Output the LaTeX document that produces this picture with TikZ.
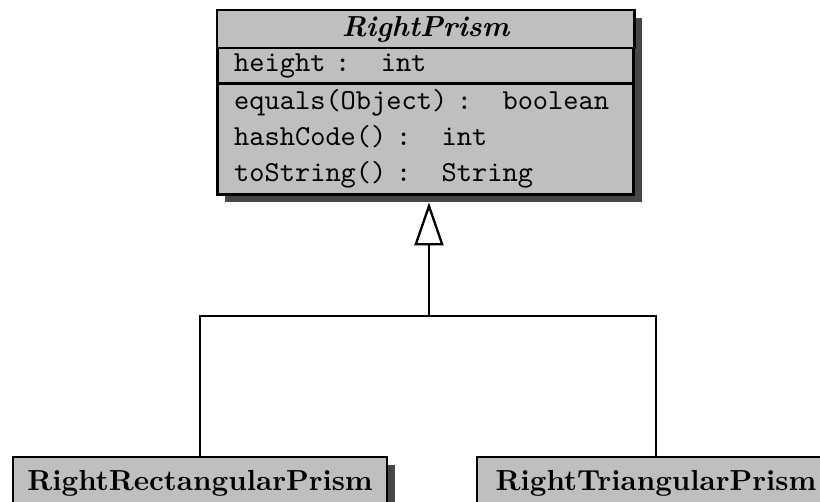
\documentclass[tikz,border=0pt]{standalone}
\usetikzlibrary{arrows.meta,shadows}

% gap of two monospace cells after a colon
\newcommand\ttgap{\phantom{xx}}

\tikzset{
  umlpart/.style={draw, line width=1pt, fill=black!25, inner sep=0pt, outer sep=0pt,
    drop shadow={shadow xshift=2.7pt, shadow yshift=-2.7pt, fill=black!72, opacity=1}},
  umlrows/.style={umlpart, align=left, text width=132pt, inner xsep=5.9pt},
  umlleaf/.style={umlpart, anchor=north, inner xsep=0pt, inner ysep=0pt,
    text height=11.4pt, text depth=20pt, font=\bfseries},
  umlline/.style={line width=0.8pt},
  inherits/.style={umlline, -{Triangle[open, length=14.8pt, width=10pt, line width=0.8pt]}}
}

\begin{document}
\begin{tikzpicture}[x=0.345pt, y=-0.345pt]
  \useasboundingbox (0,0) rectangle (820,501);
  \fill[white] (0,0) rectangle (820,501);
  \clip (0,0) rectangle (820,501);

  % abstract parent class: name, attribute and operation compartments
  \node[umlpart, minimum width=143.9pt, minimum height=13.1pt, anchor=north,
        font=\bfseries\itshape] (rp) at (425.5,10) {RightPrism};
  \node[umlrows, minimum height=12.4pt, anchor=north, font=\ttfamily]
        (rpattr) at (rp.south) {height :\ttgap int};
  \node[umlrows, minimum height=38pt, anchor=north, font=\ttfamily,
        execute at begin node=\setlength{\baselineskip}{12.4pt}]
        (rpops) at (rpattr.south)
        {equals(Object) :\ttgap boolean\\hashCode() :\ttgap int\\toString() :\ttgap String};

  % concrete subclasses
  \node[umlleaf, minimum width=129pt] (rrp) at (200,457) {RightRectangularPrism};
  \node[umlleaf, minimum width=123.5pt] (rtp) at (656,457) {RightTriangularPrism};

  % generalisation tree
  \coordinate (tip) at ([xshift=1.2pt]rpops.south);
  \coordinate (fork) at (tip |- 0,316);
  \draw[umlline] (rrp.north) |- (fork) -| (rtp.north);
  \draw[inherits, shorten >=2.9pt] (fork) -- (tip);
\end{tikzpicture}
\end{document}
